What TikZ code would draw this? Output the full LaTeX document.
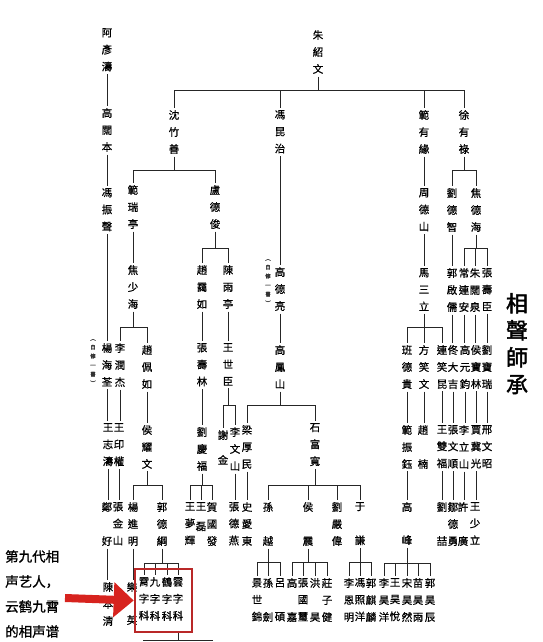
\documentclass[tikz,border=0pt]{standalone}
\usepackage{fontspec}
\newfontfamily\cjk[FakeBold=0.7]{Noto Sans CJK TC}
\newfontfamily\cjkt[FakeBold=2]{Noto Sans CJK TC}
\newfontfamily\cjksc[FakeBold=1.2]{Noto Sans CJK SC}
\usetikzlibrary{arrows.meta}
\definecolor{boxred}{RGB}{185,40,40}
\definecolor{arrred}{RGB}{215,35,30}
\tikzset{
  nm/.style={font=\cjk\fontsize{10.5}{17}\selectfont, align=center, anchor=north, inner xsep=0pt, inner ysep=2.5pt, yshift=7.5pt, text=black},
  ln/.style={draw=black!85, line width=0.9pt},
  note/.style={font=\cjk\fontsize{5.5}{9}\selectfont, align=center, anchor=north, inner sep=0pt, yshift=3pt, text=black!80},
}
\newcommand\fambar[5]{%
  \draw[ln] (#1.south) -- (#1.south |- 0,#2);
  \draw[ln] (#3.north |- 0,#2) -- (#4.north |- 0,#2);
  \foreach \c in {#5} {\draw[ln] (\c.north) -- (\c.north |- 0,#2);}
}
\begin{document}
\begin{tikzpicture}[x=1pt,y=-1pt]
\useasboundingbox (0,0) rectangle (542,642);
\fill[white] (0,0) rectangle (542,642);
% generation 0/1
\node[nm] (zhu) at (318,35) {朱\\紹\\文};
\node[nm] (ayt) at (107,33) {阿\\彥\\濤};
\node[nm] (gkb) at (107,113) {高\\闊\\本};
\node[nm] (fzs) at (107,193) {馮\\振\\聲};
\node[nm] (shen) at (174,115) {沈\\竹\\善};
\node[nm] (feng) at (280,115) {馮\\昆\\治};
\node[nm] (fanyy) at (424,115) {範\\有\\緣};
\node[nm] (xu) at (464,115) {徐\\有\\祿};
% row 190
\node[nm] (fanrt) at (133,190) {範\\瑞\\亭};
\node[nm] (ludj) at (215,190) {盧\\德\\俊};
\node[nm] (zhouds) at (424,193) {周\\德\\山};
\node[nm] (liudz) at (452,193) {劉\\德\\智};
\node[nm] (jiaodh) at (476,193) {焦\\德\\海};
% row 270
\node[nm] (jiaosh) at (133,270) {焦\\少\\海};
\node[nm] (zhaoyr) at (202,270) {趙\\靄\\如};
\node[nm] (chenyt) at (228,270) {陳\\雨\\亭};
\node[nm] (gaodl) at (280,272) {高\\德\\亮};
\node[note] (n2) at (268,262) {︵\\自\\修\\一\\書\\︶};
\node[nm] (masl) at (424,273) {馬\\三\\立};
\node[nm] (guoqr) at (452,273) {郭\\啟\\儒};
\node[nm] (changla) at (464,273) {常\\連\\安};
\node[nm] (zhukq) at (475,273) {朱\\闊\\泉};
\node[nm] (zhangsc) at (487,273) {張\\壽\\臣};
% row 350
\node[nm] (yhq) at (107,348) {楊\\海\\荃};
\node[note] (n1) at (93,342) {︵\\自\\修\\一\\書\\︶};
\node[nm] (lirj) at (120,348) {李\\潤\\杰};
\node[nm] (zhaopr) at (147,350) {趙\\佩\\如};
\node[nm] (zhangsl) at (202,348) {張\\壽\\林};
\node[nm] (wangsc) at (228,348) {王\\世\\臣};
\node[nm] (gaofs) at (280,350) {高\\鳳\\山};
\node[nm] (bandg) at (407,350) {班\\德\\貴};
\node[nm] (fangxw) at (424,350) {方\\笑\\文};
\node[nm] (lianxk) at (442,350) {連\\笑\\昆};
\node[nm] (tongdj) at (453,350) {佟\\大\\吉};
\node[nm] (gaoyj) at (465,350) {高\\元\\鈞};
\node[nm] (houbl) at (476,350) {侯\\寶\\林};
\node[nm] (liubr) at (487,350) {劉\\寶\\瑞};
% row 430
\node[nm] (wangzt) at (108,428) {王\\志\\濤};
\node[nm] (wangyq) at (119,428) {王\\印\\權};
\node[nm] (houyw) at (147,430) {侯\\耀\\文};
\node[nm] (liuqf) at (202,432) {劉\\慶\\福};
\node[nm] (xiej) at (223,435) {謝\\[8pt]金};
\node[nm] (liwsh) at (235,432) {李\\文\\山};
\node[nm] (lianghm) at (247,430) {梁\\厚\\民};
\node[nm] (shifk) at (315,428) {石\\富\\寬};
\node[nm] (fanzy) at (407,430) {範\\振\\鈺};
\node[nm] (zhaon) at (423,430) {趙\\[17pt]楠};
\node[nm] (wangsf) at (442,430) {王\\雙\\福};
\node[nm] (zhangws) at (453,430) {張\\文\\順};
\node[nm] (lilsh) at (464,430) {李\\立\\山};
\node[nm] (jiajg) at (476,430) {賈\\冀\\光};
\node[nm] (xingwz) at (487,430) {邢\\文\\昭};
% row 507
\node[nm] (zhenghao) at (107,507) {鄭\\[17pt]好};
\node[nm] (zhangjs) at (118,507) {張\\金\\山};
\node[nm] (yangjm) at (133,507) {楊\\進\\明};
\node[nm] (guodg) at (162,507) {郭\\德\\綱};
\node[nm] (wangmh) at (190,507) {王\\夢\\輝};
\node[nm] (wangl) at (201,507) {王\\[3pt]磊};
\node[nm] (hegf) at (212,507) {賀\\國\\發};
\node[nm] (zhangdy) at (234,507) {張\\德\\燕};
\node[nm] (shiad) at (247,507) {史\\愛\\東};
\node[nm] (sunyue) at (268,507) {孫\\[17pt]越};
\node[nm] (houzhen) at (308,507) {侯\\[17pt]震};
\node[nm] (liuyw) at (337,507) {劉\\嚴\\偉};
\node[nm] (yuqian) at (360,507) {于\\[17pt]謙};
\node[nm] (gaofeng) at (407,507) {高\\[16pt]峰};
\node[nm] (liuzhe) at (442,507) {劉\\[17pt]喆};
\node[nm] (zoudy) at (453,507) {鄒\\德\\勇};
\node[nm] (xug) at (463,507) {許\\[17pt]廣};
\node[nm] (wangsl) at (475,507) {王\\少\\立};
% row 583
\node[nm] (chenbq) at (108,587) {陳\\本\\清};
\node[nm] (lexx) at (132,587) {樂\\[16pt]英};
\node[nm] (xiaoz) at (144,582) {霄\\字\\科};
\node[nm] (jiuz) at (155,582) {九\\字\\科};
\node[nm] (hez) at (167,582) {鶴\\字\\科};
\node[nm] (yunz) at (178,582) {雲\\字\\科};
\node[nm] (jingsj) at (257,583) {景\\世\\錦};
\node[nm] (sunj) at (268,583) {孫\\[17pt]劍};
\node[nm] (lvs) at (280,583) {呂\\[17pt]碩};
\node[nm] (gaoj) at (292,583) {高\\[17pt]嘉};
\node[nm] (zhanggx) at (303,583) {張\\國\\璽};
\node[nm] (hongh) at (315,583) {洪\\[17pt]昊};
\node[nm] (zhuangzj) at (327,583) {莊\\子\\健};
\node[nm] (lien) at (349,583) {李\\恩\\明};
\node[nm] (fengzy) at (360,583) {馮\\照\\洋};
\node[nm] (guoql) at (371,583) {郭\\麒\\麟};
\node[nm] (lihy) at (384,583) {李\\昊\\洋};
\node[nm] (wanghy) at (395,583) {王\\昊\\悅};
\node[nm] (songhr) at (407,583) {宋\\昊\\然};
\node[nm] (miaohy) at (418,583) {苗\\昊\\雨};
\node[nm] (guohc) at (430,583) {郭\\昊\\辰};
% title
\node[font=\cjkt\fontsize{22}{27}\selectfont, align=center, anchor=north, inner sep=0pt, yshift=10pt] (title) at (517,303) {相\\聲\\師\\承};
% families
\fambar{zhu}{90}{shen}{xu}{shen,feng,fanyy,xu}
\fambar{shen}{170}{fanrt}{ludj}{fanrt,ludj}
\fambar{jiaosh}{327}{lirj}{zhaopr}{lirj,zhaopr}
\fambar{ludj}{248}{zhaoyr}{chenyt}{zhaoyr,chenyt}
\fambar{wangsc}{405}{xiej}{liwsh}{xiej,liwsh}
\fambar{liuqf}{485}{wangmh}{hegf}{wangmh,wangl,hegf}
\fambar{gaofs}{405}{lianghm}{shifk}{lianghm,shifk}
\fambar{shifk}{485}{sunyue}{yuqian}{sunyue,houzhen,liuyw,yuqian}
\fambar{sunyue}{562}{jingsj}{lvs}{jingsj,sunj,lvs}
\fambar{houzhen}{562}{gaoj}{zhuangzj}{gaoj,zhanggx,hongh,zhuangzj}
\fambar{yuqian}{562}{lien}{guoql}{lien,fengzy,guoql}
\fambar{masl}{327}{bandg}{lianxk}{bandg,fangxw,lianxk}
\fambar{gaofeng}{563}{lihy}{guohc}{lihy,wanghy,songhr,miaohy,guohc}
\fambar{xu}{170}{liudz}{jiaodh}{liudz,jiaodh}
\fambar{jiaodh}{248}{changla}{zhangsc}{changla,zhukq,zhangsc}
\fambar{houyw}{485}{yangjm}{guodg}{yangjm,guodg}
\fambar{guodg}{563}{xiaoz}{yunz}{xiaoz,jiuz,hez,yunz}
\foreach \a/\b in {ayt/gkb, gkb/fzs, fzs/yhq, fanrt/jiaosh, zhaoyr/zhangsl, zhangsl/liuqf, chenyt/wangsc, liwsh/zhangdy, feng/gaodl, gaodl/gaofs, lianghm/shiad, fanyy/zhouds, zhouds/masl, bandg/fanzy, fanzy/gaofeng, fangxw/zhaon, lianxk/wangsf, wangsf/liuzhe, liudz/guoqr, guoqr/tongdj, tongdj/zhangws, zhangws/zoudy, changla/gaoyj, gaoyj/lilsh, lilsh/xug, zhukq/houbl, houbl/jiajg, jiajg/wangsl, zhangsc/liubr, liubr/xingwz, yhq/wangzt, wangzt/zhenghao, zhenghao/chenbq, lirj/wangyq, wangyq/zhangjs, zhaopr/houyw, yangjm/lexx}
  {\draw[ln] (\a.south) -- (\a.south |- \b.north);}
% red box and arrow
\node[draw=boxred, line width=2.6pt, minimum width=57pt, minimum height=63pt, inner sep=0pt] (box) at (163.5,600.5) {};
\coordinate (bl) at (143,640);
\coordinate (br) at (213,640);
\draw[ln] (yunz.south |- box.south) -- (yunz.south |- bl);
\draw[ln] (bl) -- (br);
\coordinate (arrS) at (65,598);
\draw[arrred, line width=8pt, -{Triangle[length=20pt,width=34pt]}] (arrS) -- (box.west);
% left label
\node[font=\cjksc\fontsize{13.5}{25}\selectfont, align=left, anchor=north west, inner sep=0pt, yshift=7pt] (lab) at (5,557) {第九代相\\声艺人，\\云鹤九霄\\的相声谱};
\end{tikzpicture}
\end{document}
